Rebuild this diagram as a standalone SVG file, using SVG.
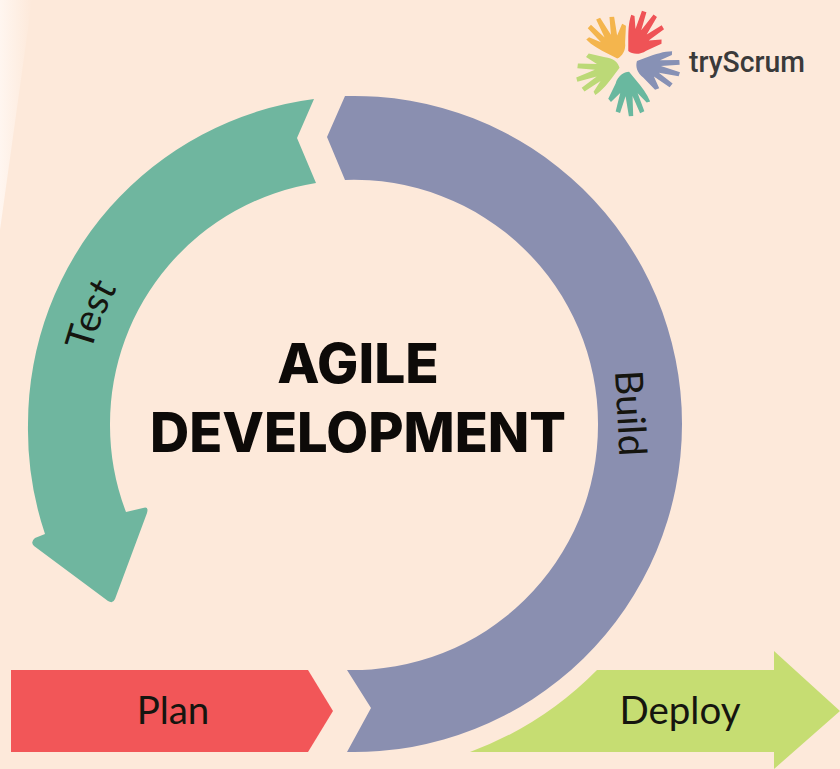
<svg xmlns="http://www.w3.org/2000/svg" width="840" height="769" viewBox="0 0 840 769">
<defs>
<linearGradient id="glow" x1="0" x2="1" y1="0" y2="0"><stop offset="0" stop-color="#fff6f0"/><stop offset="1" stop-color="#fde9da"/></linearGradient>
<filter id="soft" x="-5%" y="-5%" width="110%" height="110%"><feGaussianBlur stdDeviation="0.8"/></filter>
<g id="hand">
<path d="M-11 13C-18 4-24-4-27-13L-23-14-13-3-20-24-15-26-7-6-7-29-2-29 1-6 8-25 13-23 7-2 18-12 21-8 12 9C9 18 2 22-4 22Z"/>
</g>
<path id="arc-test" d="M91 352A273 273 0 0 1 200 198"/>
</defs>
<style>
text{font-family:"Lato","Noto Sans",sans-serif;fill:#15150f}
.label{font-size:38.5px}
.title{font-family:"Inter","Liberation Sans",sans-serif;font-size:55px;font-weight:800;text-anchor:middle;fill:#0d0a08}
</style>
<rect width="840" height="769" fill="#fde9da"/>
<path d="M0 0H32L0 230Z" fill="url(#glow)"/>
<g id="connectors"></g>
<g id="node-test">
<path d="M314 99A328 328 0 0 0 28 424A328 328 0 0 0 45 534L35 538Q30 542 34 546L108 601Q113 604 115 599L147 513Q149 506 143 508L126 512A244 244 0 0 1 110 424A244 244 0 0 1 316 183L297 138Z" fill="#6fb69f"/>
<text class="label"><textPath href="#arc-test">Test</textPath></text>
</g>
<g id="node-build">
<path d="M345 96A328 328 0 0 1 682 424A328 328 0 0 1 347 752L371 708L347 670A245 245 0 0 0 598 424A244 244 0 0 0 345 180L327 137Z" fill="#8a8fb0"/>
<text class="label" transform="translate(615 371) rotate(87)">Build</text>
</g>
<g id="node-plan">
<path d="M11 670H308L333 711L308 752H11Z" fill="#f25658"/>
<text class="label" x="173" y="724" text-anchor="middle">Plan</text>
</g>
<g id="node-deploy">
<path d="M470 752A347 347 0 0 0 597 670H774V651L840 711L774 769V752Z" fill="#c6dd72"/>
<text class="label" x="680" y="724" text-anchor="middle">Deploy</text>
</g>
<g id="node-title">
<text class="title" x="358" y="383">AGILE</text>
<text class="title" x="358" y="452" textLength="416" lengthAdjust="spacingAndGlyphs">DEVELOPMENT</text>
</g>
<g id="node-logo">
<g filter="url(#soft)" transform="translate(628 65) scale(.87) translate(-628 -65)">
<use href="#hand" transform="translate(610 36) rotate(-25)" fill="#f4b54e"/>
<use href="#hand" transform="translate(645 34) rotate(38)" fill="#ef5257"/>
<use href="#hand" transform="translate(658 71) rotate(108)" fill="#8791b5"/>
<use href="#hand" transform="translate(626 95) rotate(178)" fill="#69b89f"/>
<use href="#hand" transform="translate(596 70) rotate(-105)" fill="#bcd977"/>
</g>
<text x="689" y="72" font-size="29" style="font-family:'Roboto',sans-serif;font-weight:500;fill:#3a3a3a" textLength="116" lengthAdjust="spacingAndGlyphs">tryScrum</text>
</g>
</svg>
